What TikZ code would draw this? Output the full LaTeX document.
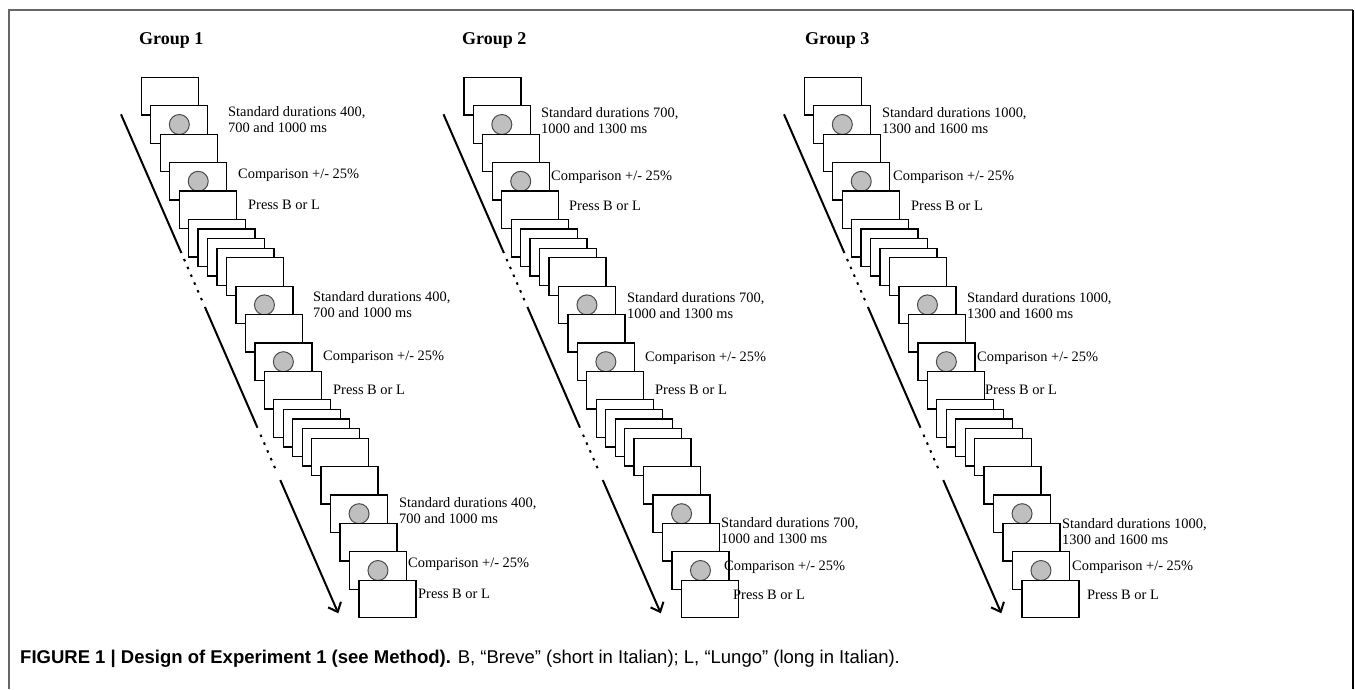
\documentclass[tikz,border=0pt]{standalone}
\usepackage{fontspec}
\setmainfont{Liberation Serif}
\newfontfamily\capfont{Liberation Sans}
\usetikzlibrary{arrows.meta,calc}

\tikzset{
  card/.style={draw=black, line width=1.3pt, fill=white, anchor=north west,
    minimum width=57pt, minimum height=37.5pt, inner sep=0pt},
  stim/.style={circle, draw=black!70, line width=1pt, fill=gray!50,
    minimum size=20pt, inner sep=0pt},
  lbl/.style={anchor=west, align=left, inner sep=0pt,
    font=\fontsize{14.4}{16}\selectfont},
  grp/.style={anchor=west, inner sep=0pt, font=\fontsize{18}{20}\selectfont\bfseries},
  timeline/.style={line width=2pt},
  gap/.style={line width=2pt, dash pattern=on 2.5pt off 6pt},
}

\begin{document}
\begin{tikzpicture}[x=1pt,y=-1pt]
    \useasboundingbox (0,0) rectangle (1355,689);

    % frame
    \coordinate (fbl) at (9,689);
    \coordinate (ftl) at (9,10);
    \coordinate (ftr) at (1353,10);
    \coordinate (fbr) at (1353,689);
    \draw[black!60, line width=2pt] (fbl) -- (ftl) -- (ftr);
    \draw[black, line width=1.5pt] (ftr) -- (fbr);

    % three groups: stacks of screens and time arrow
    \foreach \g/\gx in {1/0, 2/322.5, 3/663} {
      \begin{scope}[shift={(\gx,0)}]
        % screens (1 = grey circle shown)
        \foreach \i/\dy/\c in {0/0/0, 1/28.4/1, 2/56.8/0, 3/85.2/1, 4/113.6/0,
            5/142/0, 6/151.6/0, 7/161.2/0, 8/170.8/0, 9/180.4/0,
            10/208.8/1, 11/237.2/0, 12/265.6/1, 13/294/0, 14/322.4/0,
            15/332/0, 16/341.6/0, 17/351.2/0, 18/360.8/0,
            19/389.2/0, 20/417.6/1, 21/446/0, 22/474.4/1, 23/502.8/0} {
          \node[card] (c\g-\i) at ({140.7+9.46*\i},{76.7+\dy}) {};
          \ifnum\c=1 \node[stim] (d\g-\i) at (c\g-\i.center) {}; \fi
        }
        % time arrow, broken by dots
        \coordinate (s\g) at (121,114.3);
        \coordinate (e\g) at (338.3,613.3);
        \draw[timeline] (s\g) -- ($(s\g)!0.278!(e\g)$);
        \draw[gap] ($(s\g)!0.29!(e\g)$) -- ($(s\g)!0.378!(e\g)$);
        \draw[timeline] ($(s\g)!0.386!(e\g)$) -- ($(s\g)!0.628!(e\g)$);
        \draw[gap] ($(s\g)!0.642!(e\g)$) -- ($(s\g)!0.72!(e\g)$);
        \draw[timeline,-{Straight Barb[length=8pt,width=14pt]}] ($(s\g)!0.733!(e\g)$) -- (e\g);
      \end{scope}
    }

    % titles
    \node[grp] (g1) at (139,40) {Group 1};
    \node[grp] (g2) at (462,40) {Group 2};
    \node[grp] (g3) at (805,40) {Group 3};

    % labels, group 1
    \node[lbl] (std1a) at (228,120) {Standard durations 400,\\700 and 1000 ms};
    \node[lbl] (cmp1a) at (238,175) {Comparison +/- 25\%};
    \node[lbl] (prs1a) at (248,205) {Press B  or L};
    \node[lbl] (std1b) at (313,305) {Standard durations 400,\\700 and 1000 ms};
    \node[lbl] (cmp1b) at (323,357) {Comparison +/- 25\%};
    \node[lbl] (prs1b) at (333,390) {Press B  or L};
    \node[lbl] (std1c) at (399,511) {Standard durations 400,\\700 and 1000 ms};
    \node[lbl] (cmp1c) at (408,564) {Comparison +/- 25\%};
    \node[lbl] (prs1c) at (418,594) {Press B  or L};

    % labels, group 2
    \node[lbl] (std2a) at (541,121) {Standard durations 700,\\1000 and 1300 ms};
    \node[lbl] (cmp2a) at (551,177) {Comparison +/- 25\%};
    \node[lbl] (prs2a) at (569,206) {Press B  or L};
    \node[lbl] (std2b) at (627,306) {Standard durations 700,\\1000 and 1300 ms};
    \node[lbl] (cmp2b) at (645,358) {Comparison +/- 25\%};
    \node[lbl] (prs2b) at (655,390) {Press B  or L};
    \node[lbl] (std2c) at (721,531) {Standard durations 700,\\1000 and 1300 ms};
    \node[lbl] (cmp2c) at (724,567) {Comparison +/- 25\%};
    \node[lbl] (prs2c) at (733,595) {Press B  or L};

    % labels, group 3
    \node[lbl] (std3a) at (882,121) {Standard durations 1000,\\1300 and 1600 ms};
    \node[lbl] (cmp3a) at (893,177) {Comparison +/- 25\%};
    \node[lbl] (prs3a) at (911,206) {Press B  or L};
    \node[lbl] (std3b) at (967,306) {Standard durations 1000,\\1300 and 1600 ms};
    \node[lbl] (cmp3b) at (977,358) {Comparison +/- 25\%};
    \node[lbl] (prs3b) at (985,390) {Press B  or L};
    \node[lbl] (std3c) at (1062,532) {Standard durations 1000,\\1300 and 1600 ms};
    \node[lbl] (cmp3c) at (1072,567) {Comparison +/- 25\%};
    \node[lbl] (prs3c) at (1087,595) {Press B  or L};

    % caption
    \node[anchor=west, inner sep=0pt, font=\capfont\fontsize{18.5}{20}\selectfont] (cap) at (20,659)
      {\textbf{FIGURE 1 | Design of Experiment 1 (see Method).} B, “Breve” (short in Italian); L, “Lungo” (long in Italian).};

\end{tikzpicture}
\end{document}
